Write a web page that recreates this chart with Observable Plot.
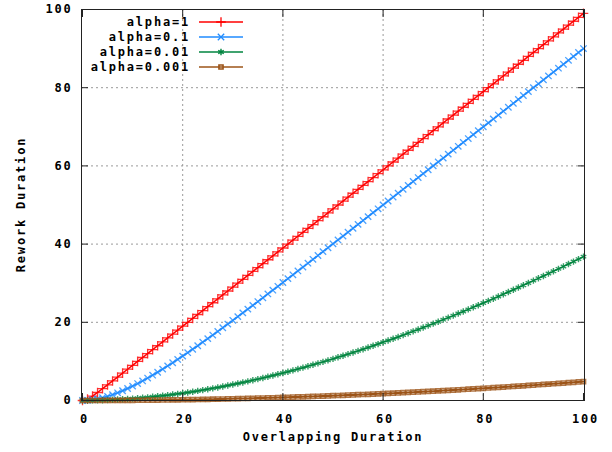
<!DOCTYPE html>
<html><head><meta charset="utf-8">
<script src="https://cdn.jsdelivr.net/npm/d3@7"></script>
<script src="https://cdn.jsdelivr.net/npm/@observablehq/plot@0.6"></script>
<style>body{margin:0;background:#fff} svg{display:block}</style>
</head><body><div id="chart"></div>
<script>
// Overlapping Duration sample positions (0..100, step 1)
const overlap = d3.range(0, 101);

const seriesNames = ["alpha=1", "alpha=0.1", "alpha=0.01", "alpha=0.001"];
const seriesColors = ["#ff0000", "#1f8bff", "#00843f", "#9c5418"];
const seriesSymbols = ["plus", "times", "asterisk", "square2"];

const rework1 = [0,0.37,1.14,2.05,3.02,4.01,5,6,7,8,9,10,11,12,13,14,15,16,17,18,19,
  20,21,22,23,24,25,26,27,28,29,30,31,32,33,34,35,36,37,38,39,
  40,41,42,43,44,45,46,47,48,49,50,51,52,53,54,55,56,57,58,59,
  60,61,62,63,64,65,66,67,68,69,70,71,72,73,74,75,76,77,78,79,
  80,81,82,83,84,85,86,87,88,89,90,91,92,93,94,95,96,97,98,99];
const rework01 = [0,0.05,0.19,0.41,0.70,1.07,1.49,1.97,2.49,3.07,3.68,
  4.33,5.01,5.73,6.47,7.23,8.02,8.83,9.65,10.50,11.35,
  12.23,13.11,14.00,14.91,15.82,16.74,17.67,18.61,19.55,20.50,
  21.45,22.41,23.37,24.33,25.30,26.27,27.25,28.22,29.20,30.18,
  31.17,32.15,33.14,34.12,35.11,36.10,37.09,38.08,39.07,40.07,
  41.06,42.06,43.05,44.05,45.04,46.04,47.03,48.03,49.03,50.02,
  51.02,52.02,53.02,54.02,55.02,56.01,57.01,58.01,59.01,60.01,
  61.01,62.01,63.01,64.01,65.01,66,67,68,69,70,
  71,72,73,74,75,76,77,78,79,80,
  81,82,83,84,85,86,87,88,89,90];
const rework001 = [0,0.00,0.02,0.04,0.08,0.12,0.18,0.24,0.31,0.39,0.48,
  0.58,0.69,0.81,0.94,1.07,1.21,1.37,1.53,1.70,1.87,
  2.06,2.25,2.45,2.66,2.88,3.11,3.34,3.58,3.83,4.08,
  4.34,4.61,4.89,5.18,5.47,5.77,6.07,6.39,6.71,7.03,
  7.37,7.70,8.05,8.40,8.76,9.13,9.50,9.88,10.26,10.65,
  11.05,11.45,11.86,12.27,12.70,13.12,13.55,13.99,14.43,14.88,
  15.34,15.79,16.26,16.73,17.20,17.69,18.17,18.66,19.16,19.66,
  20.16,20.68,21.19,21.71,22.24,22.77,23.30,23.84,24.38,24.93,
  25.49,26.04,26.60,27.17,27.74,28.32,28.90,29.48,30.07,30.66,
  31.25,31.85,32.46,33.06,33.67,34.29,34.91,35.53,36.16,36.79];
const rework0001 = [0,0.00,0.00,0.00,0.01,0.01,0.02,0.02,0.03,0.04,0.05,
  0.06,0.07,0.08,0.10,0.11,0.13,0.14,0.16,0.18,0.20,
  0.22,0.24,0.26,0.29,0.31,0.34,0.36,0.39,0.42,0.45,
  0.48,0.51,0.54,0.57,0.61,0.64,0.68,0.71,0.75,0.79,
  0.83,0.87,0.91,0.95,1.00,1.04,1.09,1.13,1.18,1.23,
  1.28,1.33,1.38,1.43,1.49,1.54,1.59,1.65,1.71,1.76,
  1.82,1.88,1.94,2.01,2.07,2.13,2.20,2.26,2.33,2.39,
  2.46,2.53,2.60,2.67,2.74,2.82,2.89,2.96,3.04,3.12,
  3.19,3.27,3.35,3.43,3.51,3.59,3.68,3.76,3.85,3.93,
  4.02,4.11,4.19,4.28,4.37,4.46,4.56,4.65,4.74,4.84];

const xTicks = [0, 20, 40, 60, 80, 100];
const yTicks = [0, 20, 40, 60, 80, 100];
const gridTicks = [20, 40, 60, 80];
const xLabel = "Overlapping Duration";
const yLabel = "Rework Duration";

const allSeries = [rework1, rework01, rework001, rework0001];
const rows = [];
allSeries.forEach((vals, i) => vals.forEach((v, j) => rows.push({x: overlap[j], y: v, s: seriesNames[i]})));

const FONT = "'DejaVu Sans Mono', monospace";
const blank = () => "";
const symR = [3.2, 3.0, 3.0, 2.6];
const symW = [1.3, 1.3, 1.4, 1.6];

const seriesMarks = [];
seriesNames.forEach((name, i) => {
  const d = rows.filter(r => r.s === name);
  seriesMarks.push(Plot.line(d, {x: "x", y: "y", stroke: seriesColors[i], strokeWidth: i === 3 ? 2 : 1.5}));
});
seriesNames.forEach((name, i) => {
  const d = rows.filter(r => r.s === name);
  seriesMarks.push(Plot.dot(d, {x: "x", y: "y", symbol: seriesSymbols[i], stroke: seriesColors[i], fill: "none",
    r: symR[i], strokeWidth: symW[i], strokeOpacity: 0.8}));
});

const chart = Plot.plot({
  width: 612, height: 452,
  marginTop: 9, marginBottom: 52, marginLeft: 81, marginRight: 28,
  style: {fontFamily: FONT, fontSize: "12px", fontWeight: "bold", background: "#fff", color: "#000", letterSpacing: "1.8px"},
  x: {domain: [-0.2, 100.2]},
  y: {domain: [0, 100]},
  marks: [
    Plot.gridX(gridTicks, {stroke: "#999", strokeOpacity: 1, strokeDasharray: "2,3"}),
    Plot.gridY(gridTicks, {stroke: "#999", strokeOpacity: 1, strokeDasharray: "2,3"}),
    ...seriesMarks,
    Plot.frame({stroke: "#222", strokeWidth: 1}),
    Plot.axisX(xTicks, {anchor: "bottom", tickSize: 0, tickPadding: 14, label: null, dx: 2}),
    Plot.axisX(xTicks, {anchor: "bottom", tickSize: -7, tickFormat: blank, label: null, stroke: "#222"}),
    Plot.axisX(xTicks, {anchor: "top", tickSize: -7, tickFormat: blank, label: null, stroke: "#222"}),
    Plot.axisY(yTicks, {anchor: "left", tickSize: 0, tickPadding: 9, label: null}),
    Plot.axisY(yTicks, {anchor: "left", tickSize: -7, tickFormat: blank, label: null, stroke: "#222"}),
    Plot.axisY(yTicks, {anchor: "right", tickSize: -7, tickFormat: blank, label: null, stroke: "#222"}),
    Plot.text([xLabel], {frameAnchor: "bottom", dy: 40, text: d => d, fill: "#000"})
  ]
});

const svg = d3.select(chart);
// Y-axis title, rotated, centred on the plot frame
svg.append("text")
  .attr("transform", `translate(21,${(9 + 400) / 2}) rotate(-90)`)
  .attr("text-anchor", "middle").attr("dy", "0.35em")
  .attr("font-family", FONT).attr("font-size", 12).attr("font-weight", "bold")
  .attr("letter-spacing", "1.8px").attr("fill", "#000").text(yLabel);

// Legend (gnuplot-style key inside the plot)
const key = svg.append("g").attr("font-family", FONT).attr("font-size", 12).attr("font-weight", "bold")
  .attr("letter-spacing", "1.8px");
const d3sym = {plus: d3.symbolPlus, times: d3.symbolTimes, asterisk: d3.symbolAsterisk, square2: d3.symbolSquare2};
seriesNames.forEach((name, i) => {
  const cy = 22 + 15 * i;
  key.append("text").attr("x", 190).attr("y", cy).attr("dy", "0.35em").attr("text-anchor", "end").attr("fill", "#000").text(name);
  key.append("line").attr("x1", 199).attr("x2", 243).attr("y1", cy).attr("y2", cy).attr("stroke", seriesColors[i]).attr("stroke-width", 1.5);
  key.append("path").attr("transform", `translate(221,${cy})`)
    .attr("d", d3.symbol(d3sym[seriesSymbols[i]], Math.PI * symR[i] * symR[i])())
    .attr("fill", "none").attr("stroke", seriesColors[i]).attr("stroke-width", symW[i]);
});

document.getElementById("chart").appendChild(chart);
</script>
</body></html>
